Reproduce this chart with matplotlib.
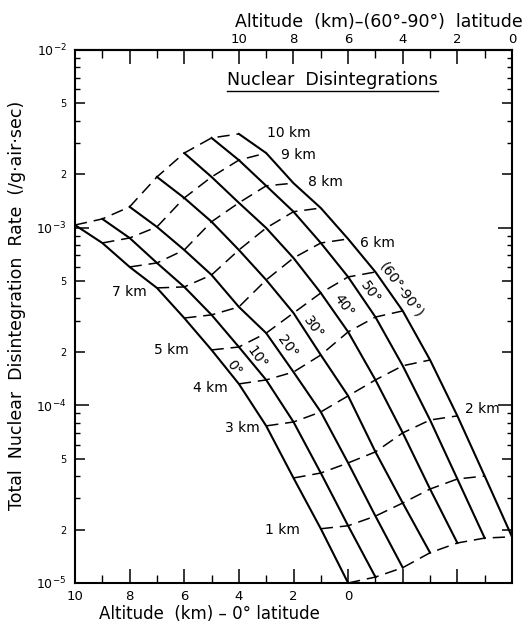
import numpy as np
import matplotlib
matplotlib.use("Agg")
import matplotlib.pyplot as plt
from matplotlib.ticker import FixedLocator, NullFormatter

plt.rcParams["font.family"] = ["DejaVu Sans"]

# grid altitudes (km), same for every latitude band
altitudes = [0, 1, 2, 3, 4, 5, 6, 7, 8, 9, 10]

# every latitude curve is slid 1 km left of the previous one (nomogram)
lat_labels = ["0°", "10°", "20°", "30°", "40°", "50°", "(60°-90°)"]
lat_shift = [0, 1, 2, 3, 4, 5, 6]

# total disintegration rate (/g air sec), index = altitude
rate_0 = [1.00e-5, 2.02e-5, 3.90e-5, 7.66e-5, 1.32e-4, 2.05e-4, 3.10e-4, 4.58e-4, 6.01e-4, 8.20e-4, 1.035e-3]
rate_10 = [1.08e-5, 2.10e-5, 4.16e-5, 8.06e-5, 1.39e-4, 2.13e-4, 3.23e-4, 4.64e-4, 6.33e-4, 8.75e-4, 1.12e-3]
rate_20 = [1.22e-5, 2.38e-5, 4.74e-5, 9.18e-5, 1.54e-4, 2.55e-4, 3.58e-4, 5.42e-4, 7.49e-4, 1.01e-3, 1.31e-3]
rate_30 = [1.48e-5, 2.82e-5, 5.47e-5, 1.13e-4, 1.92e-4, 3.31e-4, 5.08e-4, 7.49e-4, 1.08e-3, 1.47e-3, 1.93e-3]
rate_40 = [1.68e-5, 3.38e-5, 7.00e-5, 1.39e-4, 2.59e-4, 4.29e-4, 6.75e-4, 9.96e-4, 1.38e-3, 1.93e-3, 2.63e-3]
rate_50 = [1.79e-5, 3.85e-5, 8.27e-5, 1.67e-4, 3.14e-4, 5.28e-4, 8.20e-4, 1.23e-3, 1.72e-3, 2.40e-3, 3.20e-3]
rate_60_90 = [1.82e-5, 4.00e-5, 8.72e-5, 1.80e-4, 3.40e-4, 5.63e-4, 8.64e-4, 1.29e-3, 1.78e-3, 2.63e-3, 3.37e-3]
rates = [rate_0, rate_10, rate_20, rate_30, rate_40, rate_50, rate_60_90]

# which dashed curves get a "km" label, and at which end
km_left = [1, 3, 4, 5, 7]
km_right = [2, 6, 8, 9, 10]

ytick_values = [1e-5, 2e-5, 5e-5, 1e-4, 2e-4, 5e-4, 1e-3, 2e-3, 5e-3, 1e-2]
ytick_labels = [r"$10^{-5}$", "2", "5", r"$10^{-4}$", "2", "5", r"$10^{-3}$", "2", "5", r"$10^{-2}$"]
yminor_values = [m * 10.0 ** e for e in (-5, -4, -3) for m in (3, 4, 6, 7, 8, 9)]

xtick_bottom = [10, 8, 6, 4, 2, 0, -2, -4, -6]
xlabel_bottom = ["10", "8", "6", "4", "2", "0", "", "", ""]
xminor_bottom = [9, 7, 5, 3, 1, -1, -3, -5]
xtick_top = [16, 14, 12, 10, 8, 6, 4, 2, 0]
xlabel_top = ["", "", "", "10", "8", "6", "4", "2", "0"]
xminor_top = [15, 13, 11, 9, 7, 5, 3, 1]

# label placement (pixels from the anchoring grid node)
km_offsets = {1: (-21, -1), 3: (-6, -2), 4: (-11, -4), 5: (-23, 0), 7: (-10, -4),
              2: (8, 7), 6: (12, -4), 8: (15, 1), 9: (15, -2), 10: (28, 1)}
lat_offsets = [(22, -18), (18, -11), (21, -13), (20, -15), (23, -13), (22, -16), (26, -18)]

fig = plt.figure(figsize=(5.26, 6.26), dpi=100)
ax = fig.add_axes([75 / 526, 43 / 626, 437 / 526, 533 / 626])
ax.set_yscale("log")
ax.set_xlim(10, -6)
ax.set_ylim(1e-5, 1e-2)

# constant altitude (dashed)
for j, h in enumerate(altitudes):
    ax.plot([h - s for s in lat_shift], [r[j] for r in rates],
            color="k", lw=1.1, ls=(0, (8, 4.5)), zorder=2)

# constant latitude (solid)
for s, r in zip(lat_shift, rates):
    ax.plot([h - s for h in altitudes], r, color="k", lw=1.5, zorder=3)

for h in km_left:
    ax.annotate(f"{h} km", (h - lat_shift[0], rates[0][h]), xytext=km_offsets[h],
                textcoords="offset pixels", ha="right", va="center", fontsize=10)
for h in km_right:
    ax.annotate(f"{h} km", (h - lat_shift[-1], rates[-1][h]), xytext=km_offsets[h],
                textcoords="offset pixels", ha="left", va="center", fontsize=10)

for lab, s, r, off in zip(lat_labels, lat_shift, rates, lat_offsets):
    ax.annotate(lab, (5 - s, r[5]), xytext=off, textcoords="offset pixels",
                ha="center", va="center", rotation=-54, rotation_mode="anchor", fontsize=10)

title = ax.text(0.59, 0.944, "Nuclear  Disintegrations", transform=ax.transAxes,
                ha="center", va="center", fontsize=12.5)

# y axis
ax.set_yticks(ytick_values, ytick_labels)
ax.yaxis.set_minor_locator(FixedLocator(yminor_values))
ax.yaxis.set_minor_formatter(NullFormatter())
ax.tick_params(axis="y", which="major", direction="in", length=7, width=1.1,
               right=True, labelsize=9, pad=6)
ax.tick_params(axis="y", which="minor", direction="in", length=3.5, width=1.0, right=True)
for tick, val in zip(ax.yaxis.get_major_ticks(), ytick_values):
    if abs(np.log10(val) - round(np.log10(val))) < 1e-9:
        tick.tick1line.set_markersize(10)
        tick.tick2line.set_markersize(10)
    else:
        tick.label1.set_fontsize(7)
ax.set_ylabel("Total  Nuclear  Disintegration  Rate  (/g·air·sec)", fontsize=12.5)
ax.yaxis.set_label_coords(-0.112, 0.52)

# bottom axis: 0 deg latitude
ax.set_xticks(xtick_bottom, xlabel_bottom)
ax.xaxis.set_minor_locator(FixedLocator(xminor_bottom))
ax.tick_params(axis="x", which="major", direction="in", length=10, width=1.1,
               top=False, labelsize=9.5, pad=5)
ax.tick_params(axis="x", which="minor", direction="in", length=5.5, width=1.0, top=False)
fig.text(209 / 526, 1 - 614 / 626, "Altitude  (km) – 0° latitude",
         ha="center", va="center", fontsize=12)

# top axis: 60-90 deg latitude, same scale shifted by 6 km
top = ax.secondary_xaxis("top", functions=(lambda x: x + 6, lambda x: x - 6))
top.set_xticks(xtick_top, xlabel_top)
top.xaxis.set_minor_locator(FixedLocator(xminor_top))
top.tick_params(which="major", direction="in", length=10, width=1.1, labelsize=9.5, pad=3)
top.tick_params(which="minor", direction="in", length=5.5, width=1.0)
fig.text(379 / 526, 1 - 22 / 626, "Altitude  (km)–(60°-90°)  latitude",
         ha="center", va="center", fontsize=12.5)

for sp in ax.spines.values():
    sp.set_linewidth(1.5)
top.spines["top"].set_linewidth(1.5)

# underline the panel title
fig.canvas.draw()
bb = title.get_window_extent().transformed(ax.transAxes.inverted())
ax.plot([bb.x0, bb.x1], [bb.y0 - 0.004, bb.y0 - 0.004], color="k", lw=1.0,
        transform=ax.transAxes, clip_on=False)

fig.savefig("out.png", dpi=100)
